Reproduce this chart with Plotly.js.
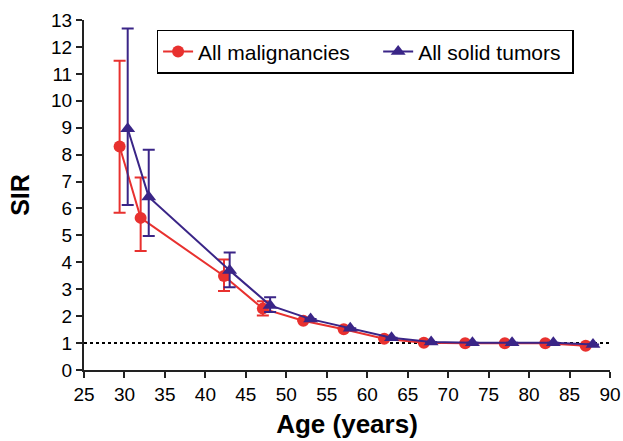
<!DOCTYPE html>
<html>
<head>
<meta charset="utf-8">
<script src="https://cdn.plot.ly/plotly-3.0.1.min.js"></script>
<style>html,body{margin:0;padding:0;background:#fff;}#chart{width:623px;height:441px;}</style>
</head>
<body>
<div id="chart"></div>
<script>
// All malignancies
const malAge = [29.4, 32.0, 42.3, 47.1, 52.1, 57.1, 62.1, 67.0, 72.1, 77.0, 82.0, 87.0];
const malSIR = [8.3, 5.65, 3.49, 2.28, 1.83, 1.51, 1.16, 1.01, 0.99, 0.99, 0.99, 0.9];
const malHi  = [11.49, 7.15, 4.1, 2.55, null, null, null, null, null, null, null, null];
const malLo  = [5.84, 4.42, 2.93, 2.02, null, null, null, null, null, null, null, null];
// All solid tumors
const solAge = [30.4, 33.0, 43.0, 48.0, 53.0, 57.9, 63.0, 67.9, 73.0, 77.9, 83.0, 87.9];
const solSIR = [8.96, 6.43, 3.7, 2.4, 1.89, 1.55, 1.2, 1.04, 1.01, 1.01, 1.01, 0.95];
const solHi  = [12.68, 8.18, 4.36, 2.7, null, null, null, null, null, null, null, null];
const solLo  = [6.13, 4.98, 3.07, 2.15, null, null, null, null, null, null, null, null];
const refLine = 1;
const seriesNames = ['All malignancies', 'All solid tumors'];

function plus(v, hi){ return hi.map((h,i)=> h==null ? 0 : h - v[i]); }
function minus(v, lo){ return lo.map((l,i)=> l==null ? 0 : v[i] - l); }

const red = '#e8312f', purple = '#3a2587';
const traces = [
  {
    x: malAge, y: malSIR, name: seriesNames[0] + '\u00a0\u00a0\u00a0\u00a0', type: 'scatter', mode: 'lines+markers',
    line: {color: red, width: 2},
    marker: {symbol: 'circle', size: 12, color: red},
    error_y: {type: 'data', symmetric: false, array: plus(malSIR, malHi), arrayminus: minus(malSIR, malLo),
              color: red, thickness: 2, width: 6}
  },
  {
    x: solAge, y: solSIR, name: seriesNames[1] + '\u00a0', type: 'scatter', mode: 'lines+markers',
    line: {color: purple, width: 2},
    marker: {symbol: 'triangle-up', size: 13, color: purple},
    error_y: {type: 'data', symmetric: false, array: plus(solSIR, solHi), arrayminus: minus(solSIR, solLo),
              color: purple, thickness: 2, width: 6}
  }
];

const font = {family: 'Liberation Sans, Arial, sans-serif', color: '#000'};
const layout = {
  width: 623, height: 441,
  margin: {l: 84, r: 13, t: 20, b: 71},
  paper_bgcolor: '#fff', plot_bgcolor: '#fff',
  font: Object.assign({size: 19}, font),
  showlegend: true,
  legend: {
    x: 0.138, y: 0.972, xanchor: 'left', yanchor: 'top', orientation: 'h',
    bordercolor: '#000', borderwidth: 1.5, bgcolor: '#fff',
    font: Object.assign({size: 21}, font), tracegroupgap: 0
  },
  xaxis: {
    range: [25, 90], dtick: 5, tick0: 25, showgrid: false, zeroline: false,
    showline: true, linecolor: '#222', linewidth: 2,
    ticks: 'outside', ticklen: 6, tickwidth: 2, tickcolor: '#222',
    tickfont: Object.assign({size: 19}, font),
    title: {text: '<b>Age (years)</b>', font: Object.assign({size: 26}, font), standoff: 11}
  },
  yaxis: {
    range: [0, 13], dtick: 1, tick0: 0, showgrid: false, zeroline: false,
    showline: true, linecolor: '#222', linewidth: 2,
    ticks: 'outside', ticklen: 6, tickwidth: 2, tickcolor: '#222',
    tickfont: Object.assign({size: 19}, font),
    title: {text: '<b>SIR</b>', font: Object.assign({size: 25}, font), standoff: 14}
  },
  shapes: [{
    type: 'line', xref: 'x', yref: 'y', x0: 25, x1: 90, y0: refLine, y1: refLine,
    line: {color: '#000', width: 2, dash: 'dot'}, layer: 'below'
  }]
};

Plotly.newPlot('chart', traces, layout, {staticPlot: true, displayModeBar: false});
</script>
</body>
</html>
